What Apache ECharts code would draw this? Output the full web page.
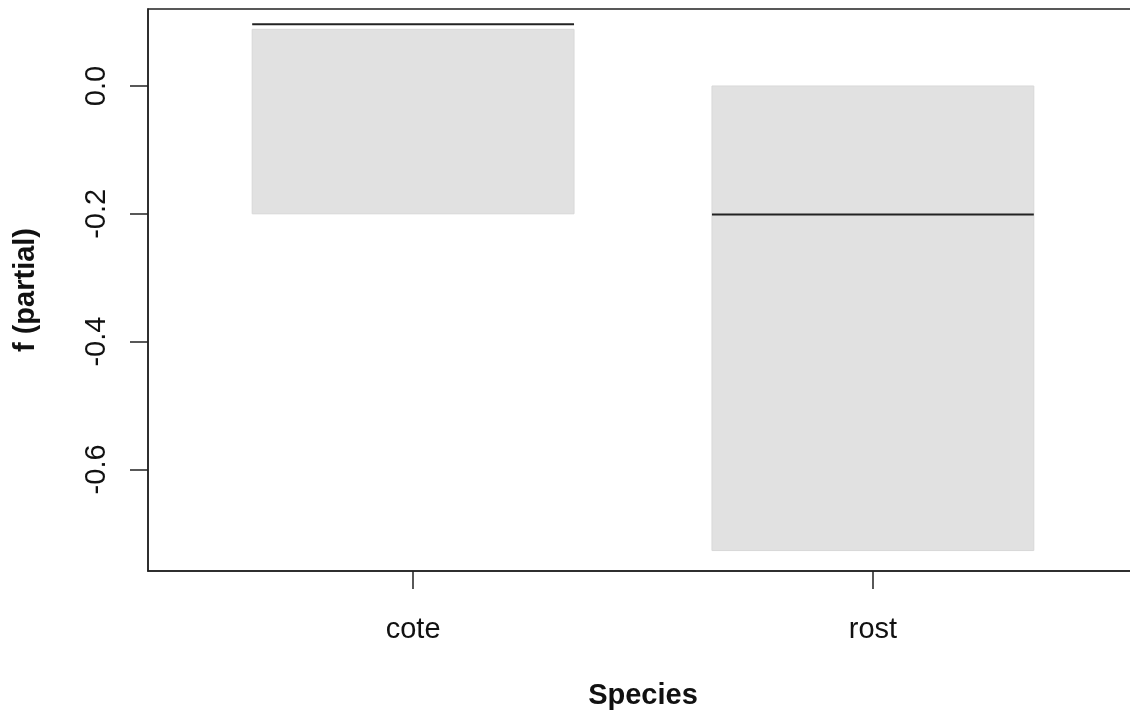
<!DOCTYPE html>
<html>
<head>
<meta charset="utf-8">
<script src="https://cdn.jsdelivr.net/npm/echarts@6/dist/echarts.min.js"></script>
<style>html,body{margin:0;padding:0;background:#fff;overflow:hidden;}#c{width:1130px;height:713px;}</style>
</head>
<body>
<div id="c"></div>
<script>
// Data
const categories = ['cote', 'rost'];
const fitValues = [0.0966, -0.201];
const upperValues = [0.0887, 0.0];
const lowerValues = [-0.200, -0.727];
const yTickValues = [0, -0.2, -0.4, -0.6];
const yTickLabels = ['0.0', '-0.2', '-0.4', '-0.6'];

const FONT = '"Liberation Sans", Arial, sans-serif';
const seriesData = categories.map((c, i) => [i + 1, fitValues[i], lowerValues[i], upperValues[i]]);

const chart = echarts.init(document.getElementById('c'), null, {renderer: 'canvas'});
chart.setOption({
  animation: false,
  backgroundColor: '#ffffff',
  grid: {left: 148, top: 9, right: -8, bottom: 142, outerBoundsMode: 'none', containLabel: false,
    show: true, borderColor: '#222', borderWidth: 1.5, backgroundColor: 'transparent'},
  xAxis: {
    type: 'value', min: 0.4234, max: 2.5766,
    splitLine: {show: false},
    axisLine: {show: true, onZero: false, lineStyle: {color: '#222', width: 1.5}},
    axisTick: {show: true, length: 18, lineStyle: {color: '#222', width: 1.5}, customValues: [1, 2]},
    axisLabel: {customValues: [1, 2], formatter: v => categories[Math.round(v) - 1] || '', margin: 44,
      fontFamily: FONT, fontSize: 29, color: '#111'},
    name: 'Species', nameLocation: 'middle', nameGap: 110,
    nameTextStyle: {fontFamily: FONT, fontSize: 29, fontWeight: 'bold', color: '#111'}
  },
  yAxis: {
    type: 'value', min: -0.759, max: 0.1205,
    splitLine: {show: false},
    axisLine: {show: true, onZero: false, lineStyle: {color: '#222', width: 1.5}},
    axisTick: {show: true, length: 18, lineStyle: {color: '#222', width: 1.5}, customValues: yTickValues},
    axisLabel: {customValues: yTickValues, rotate: 90, margin: 37,
      formatter: v => { const i = yTickValues.findIndex(t => Math.abs(t - v) < 1e-9); return i >= 0 ? yTickLabels[i] : ''; },
      fontFamily: FONT, fontSize: 29, color: '#111'},
    name: 'f (partial)', nameLocation: 'middle', nameGap: 108, nameRotate: 90,
    nameTextStyle: {fontFamily: FONT, fontSize: 29, fontWeight: 'bold', color: '#111'}
  },
  series: [{
    type: 'custom',
    data: seriesData,
    renderItem: function (params, api) {
      const x = api.value(0);
      const hw = 0.35;
      const p1 = api.coord([x - hw, api.value(3)]);
      const p2 = api.coord([x + hw, api.value(2)]);
      const l1 = api.coord([x - hw, api.value(1)]);
      const l2 = api.coord([x + hw, api.value(1)]);
      return {
        type: 'group',
        children: [
          {type: 'rect', shape: {x: p1[0], y: p1[1], width: p2[0] - p1[0], height: p2[1] - p1[1]},
            style: {fill: '#e1e1e1', stroke: '#d8d8d8', lineWidth: 1}},
          {type: 'line', shape: {x1: l1[0], y1: l1[1], x2: l2[0], y2: l2[1]},
            style: {stroke: '#222', lineWidth: 2}}
        ]
      };
    }
  }]
});
</script>
</body>
</html>
